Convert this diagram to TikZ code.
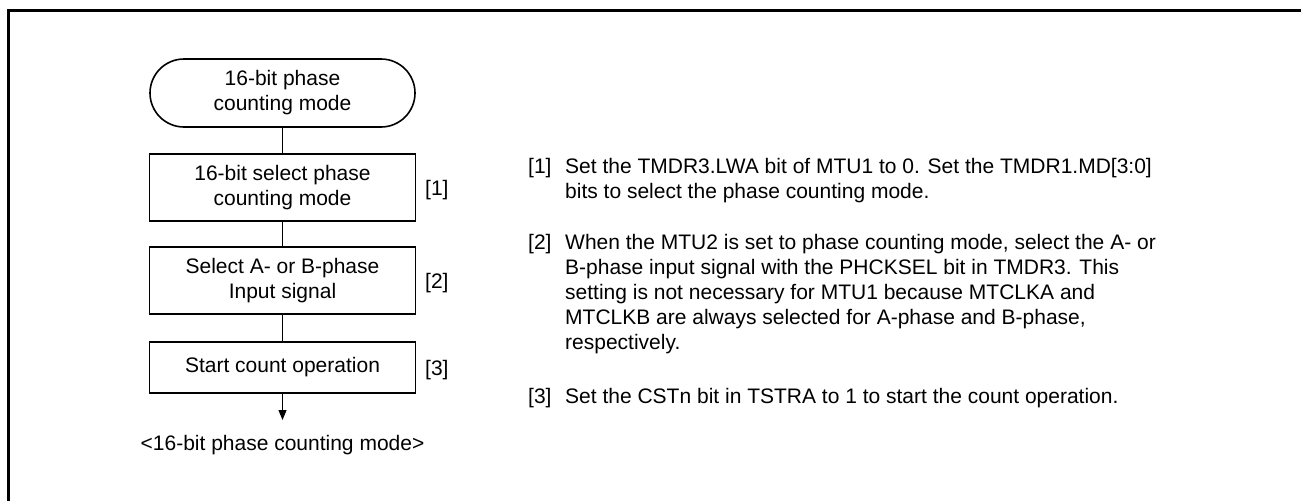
\documentclass[tikz,border=0pt]{standalone}
\usepackage{fontspec}
\setmainfont{Liberation Sans}
\usetikzlibrary{arrows.meta}
\begin{document}
\begin{tikzpicture}[x=1pt,y=-1pt,
  every node/.style={font=\fontsize{21}{25}\selectfont, inner sep=0pt},
  procbox/.style={draw, line width=1.6pt, minimum width=266pt, align=center},
  termbox/.style={draw, line width=1.6pt, minimum width=265pt, minimum height=68pt, rounded corners=34pt, align=center},
  conn/.style={line width=1pt},
  txt/.style={anchor=base west}
]
\useasboundingbox (0,0) rectangle (1301,501);
% frame (top and left edges)
\draw[line width=2.6pt] (8.5,501) -- (8.5,10.5) -- (1301,10.5);

% flowchart
\node[termbox] (t) at (282.5,93) {16-bit phase\\counting mode};
\node[procbox, minimum height=67pt] (b1) at (282.5,187.5) {16-bit select phase\\counting mode};
\node[procbox, minimum height=67pt] (b2) at (282.5,280.5) {Select A- or B-phase\\Input signal};
\node[procbox, minimum height=51pt] (b3) at (282.5,367.5) {Start count operation};
\coordinate (e) at (282.5,420);
\node (lab) at (282.5,445) {<16-bit phase counting mode>};

\draw[conn] (t) -- (b1);
\draw[conn] (b1) -- (b2);
\draw[conn] (b2) -- (b3);
\draw[conn,-{Triangle[width=8pt,length=10pt]}] (b3) -- (e);

\node[anchor=west] (n1) at (425,190) {[1]};
\node[anchor=west] (n2) at (425,283) {[2]};
\node[anchor=west] (n3) at (425,370.5) {[3]};

% descriptions
\node[txt] (d1) at (528,173.5) {[1]};
\node[txt] (d1a) at (565,173.5) {Set the TMDR3.LWA bit of MTU1 to 0. Set the TMDR1.MD[3:0]};
\node[txt] (d1b) at (565,198.5) {bits to select the phase counting mode.};

\node[txt] (d2) at (528,249) {[2]};
\node[txt] (d2a) at (565,249) {When the MTU2 is set to phase counting mode, select the A- or};
\node[txt] (d2b) at (565,274) {B-phase input signal with the PHCKSEL bit in TMDR3. This};
\node[txt] (d2c) at (565,299) {setting is not necessary for MTU1 because MTCLKA and};
\node[txt] (d2d) at (565,324) {MTCLKB are always selected for A-phase and B-phase,};
\node[txt] (d2e) at (565,349) {respectively.};

\node[txt] (d3) at (528,403) {[3]};
\node[txt] (d3a) at (565,403) {Set the CSTn bit in TSTRA to 1 to start the count operation.};
\end{tikzpicture}
\end{document}
